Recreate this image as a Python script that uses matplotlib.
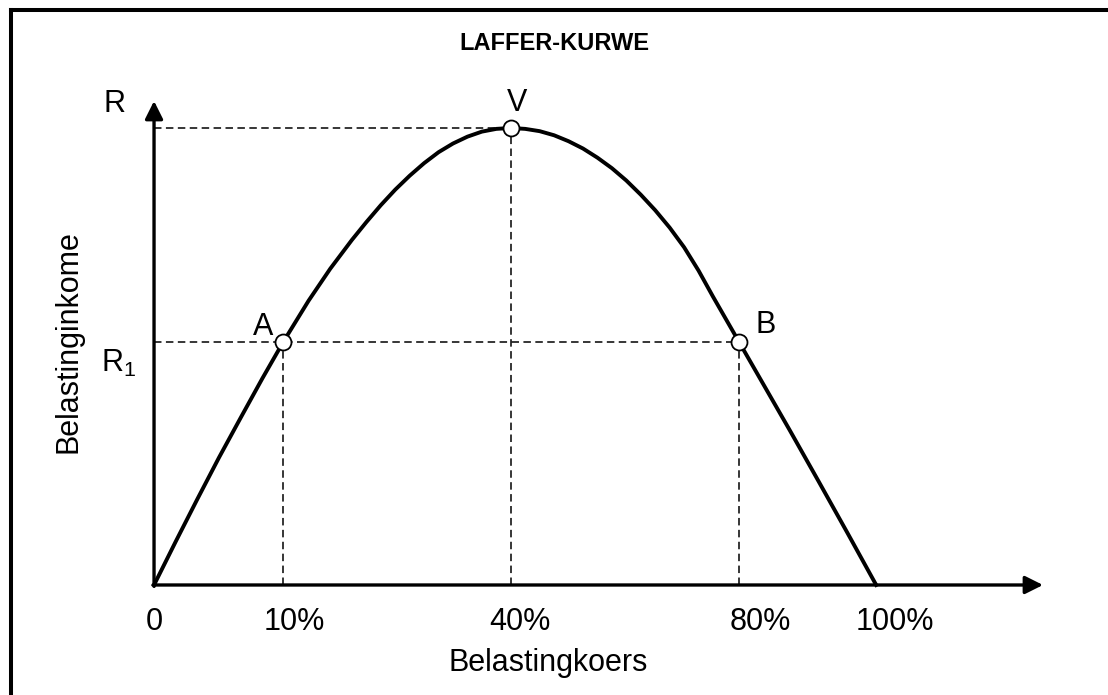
"""
Laffer-kurwe: belastinginkome teenoor belastingkoers
"""
import matplotlib
matplotlib.use("Agg")
import matplotlib.pyplot as plt
from matplotlib.lines import Line2D

plt.rcParams["font.family"] = ["Liberation Sans", "DejaVu Sans"]
plt.rcParams["mathtext.default"] = "regular"

# data (x: 100 = 100% belastingkoers, y: 100 = maksimum inkome R)
curve_x = [0, 3, 6, 9, 12, 15, 17.9, 21.4, 24.4, 27.4, 29.4, 31.4, 33.4, 35.4, 37.4, 39.4,
           41.4, 43.4, 45.4, 47.4, 49.4, 51.4, 53.4, 55.4, 57.4, 59.4, 61.4, 63.4, 65.4,
           67.4, 69.4, 71.4, 73.4, 75.4, 77.4, 79.2, 81.0, 84.4, 88.0, 92.0, 96.0, 100]
curve_y = [0, 9.5, 18.8, 27.9, 36.6, 45.2, 53.2, 62.2, 69.2, 75.5, 79.4, 83.1, 86.5, 89.55,
           92.3, 94.7, 96.6, 98.1, 99.2, 99.8, 100, 99.8, 99.3, 98.4, 97.1, 95.5, 93.5, 91.2,
           88.5, 85.4, 82.0, 78.2, 73.9, 68.8, 63.1, 58.15, 53.2, 43.85, 33.95, 22.75, 11.45, 0]

tick_pos = [0, 17.9, 49.4, 81.0, 100]
tick_labels = ["0", "10%", "40%", "80%", "100%"]

R_level = 100
R1_level = 53.2

point_names = ["A", "V", "B"]
point_x = [17.9, 49.4, 81.0]
point_y = [R1_level, R_level, R1_level]

# styling
FS = 22
tick_offsets = [0, 11, 9, 21, 19]             # pixels, labels sit a bit right of the lines
point_label_offsets = [(-20, 15), (6, 25), (27, 17)]
dash = (0, (4.9, 2.9))

fig = plt.figure(figsize=(11.08, 6.95), dpi=100)
ax = fig.add_axes([0, 0, 1, 1])
ax.set_xlim(-21.33, 132.1)
ax.set_ylim(-24.07, 128.0)
ax.axis("off")

# outer frame (only left and top visible)
fig.add_artist(Line2D([10.5 / 1108, 10.5 / 1108], [0, 1 - 9.5 / 695], color="black", lw=2.9,
                      transform=fig.transFigure, solid_capstyle="projecting"))
fig.add_artist(Line2D([10.5 / 1108, 1], [1 - 9.5 / 695, 1 - 9.5 / 695], color="black", lw=2.9,
                      transform=fig.transFigure, solid_capstyle="projecting"))

# axes with arrows
arrow = dict(arrowstyle="-|>", mutation_scale=27, lw=2.4, color="black", shrinkA=0, shrinkB=0)
ax.annotate("", xy=(123.1, 0), xytext=(-0.15, 0), arrowprops=arrow)
ax.annotate("", xy=(0, 105.9), xytext=(0, -0.3), arrowprops=arrow)

# dashed guides
ax.plot([0, point_x[1]], [R_level, R_level], color="black", lw=1.1, ls=dash)
ax.plot([0, point_x[2]], [R1_level, R1_level], color="black", lw=1.1, ls=dash)
for px, py in zip(point_x, point_y):
    ax.plot([px, px], [0, py], color="black", lw=1.1, ls=dash)

# curve
ax.plot(curve_x, curve_y, color="black", lw=2.8, solid_joinstyle="round", zorder=3)

# points
ax.plot(point_x, point_y, "o", ms=11.5, mfc="white", mec="black", mew=1.3, zorder=4)
for name, px, py, off in zip(point_names, point_x, point_y, point_label_offsets):
    ax.annotate(name, (px, py), xytext=off, textcoords="offset pixels",
                ha="center", va="center", fontsize=FS)

# tick labels
for pos, lab, off in zip(tick_pos, tick_labels, tick_offsets):
    ax.annotate(lab, (pos, 0), xytext=(off, -37), textcoords="offset pixels",
                ha="center", va="center", fontsize=FS)

ax.annotate("R", (0, R_level), xytext=(-40, 24), textcoords="offset pixels",
            ha="center", va="center", fontsize=FS)
ax.annotate("R$_1$", (0, R1_level), xytext=(-35, -22), textcoords="offset pixels",
            ha="center", va="center", fontsize=FS)

fig.text(548 / 1108, 1 - 663 / 695, "Belastingkoers", ha="center", va="center", fontsize=FS)
fig.text(68 / 1108, 1 - 342 / 695, "Belastinginkome", ha="center", va="center",
         rotation=90, fontsize=FS)
fig.text(554 / 1108, 1 - 44 / 695, "LAFFER-KURWE", ha="center", va="center",
         fontsize=17, fontweight="bold")

fig.savefig("out.png", dpi=100)
